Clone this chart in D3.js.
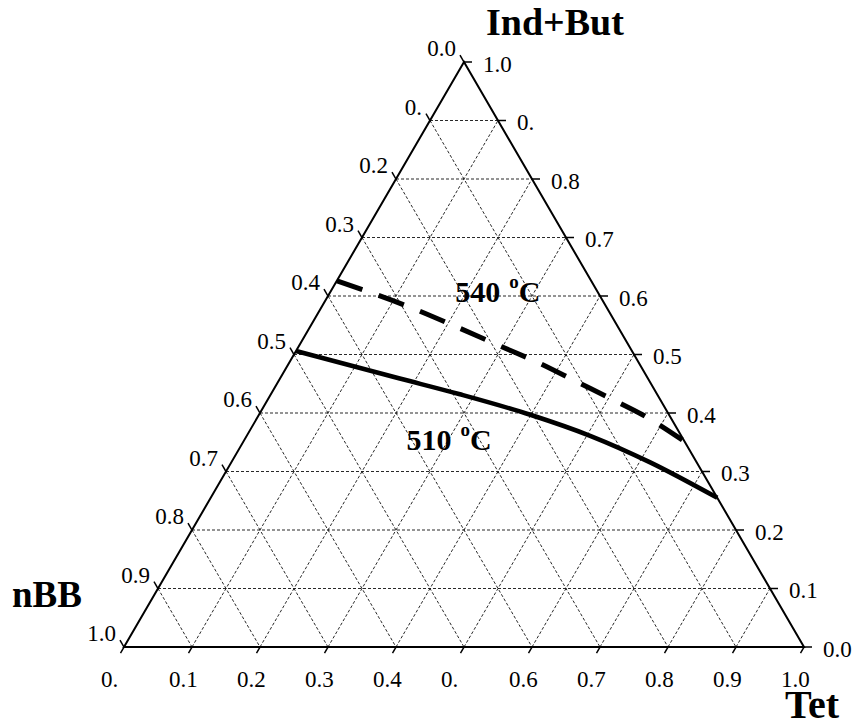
<!DOCTYPE html>
<html>
<head>
<meta charset="utf-8">
<script src="https://cdn.jsdelivr.net/npm/d3@7"></script>
<style>
  body { margin: 0; background: #fff; }
  svg text { font-family: "Liberation Serif", "Times New Roman", serif; fill: #000; }
</style>
</head>
<body>
<div id="chart"></div>
<script>
// values along every axis
var steps = [0, 0.1, 0.2, 0.3, 0.4, 0.5, 0.6, 0.7, 0.8, 0.9, 1.0];
var gridSteps = [0.1, 0.2, 0.3, 0.4, 0.5, 0.6, 0.7, 0.8, 0.9];

// tick labels as printed (some are clipped to "0." in the original)
var leftLabels = ["0.0", "0.", "0.2", "0.3", "0.4", "0.5", "0.6", "0.7", "0.8", "0.9", "1.0"];   // nBB, top -> bottom
var rightLabels = ["0.0", "0.1", "0.2", "0.3", "0.4", "0.5", "0.6", "0.7", "0.8", "0.", "1.0"];  // Ind+But, bottom -> top
var bottomLabels = ["0.", "0.1", "0.2", "0.3", "0.4", "0.", "0.6", "0.7", "0.8", "0.9", "1.0"];  // Tet, left -> right

// curves as [Tet, Ind+But] fractions
var curve510 = [[0.0, 0.506], [0.176, 0.459], [0.278, 0.432], [0.399, 0.397],
                [0.505, 0.361], [0.615, 0.316], [0.745, 0.255]];
var curve540 = [[0.0, 0.626], [0.143, 0.576], [0.216, 0.547], [0.292, 0.516],
                [0.364, 0.487], [0.44, 0.453], [0.516, 0.419], [0.564, 0.397], [0.644, 0.354]];

// annotation anchors [Tet, Ind+But]
var label540 = [0.192, 0.590];
var label510 = [0.247, 0.337];

var width = 856, height = 726;

var svg = d3.select('#chart').append('svg')
    .attr('width', width)
    .attr('height', height);

// x takes (Tet + IB/2), y takes IB
var x = d3.scaleLinear().domain([0, 1]).range([124, 804]);
var y = d3.scaleLinear().domain([0, 1]).range([647, 62]);

function px(tet, ib) { return [x(tet + ib / 2), y(ib)]; }

// dotted grid
var gridLines = [];
gridSteps.forEach(function(v) {
    gridLines.push([px(0, v), px(1 - v, v)]);          // constant Ind+But
    gridLines.push([px(v, 0), px(v, 1 - v)]);          // constant Tet
    gridLines.push([px(0, 1 - v), px(1 - v, 0)]);      // constant nBB
});

svg.append('g').attr('class', 'grid')
  .selectAll('line').data(gridLines).enter().append('line')
    .attr('x1', function(d) { return d[0][0]; })
    .attr('y1', function(d) { return d[0][1]; })
    .attr('x2', function(d) { return d[1][0]; })
    .attr('y2', function(d) { return d[1][1]; })
    .attr('stroke', '#111')
    .attr('stroke-width', 0.9)
    .attr('stroke-dasharray', '3,2');

// triangle frame
var corners = [px(0, 0), px(1, 0), px(0, 1)];
svg.append('path')
    .attr('d', d3.line()(corners) + 'Z')
    .attr('fill', 'none')
    .attr('stroke', '#000')
    .attr('stroke-width', 2);

var tickLen = 8;
var c60 = Math.cos(Math.PI / 3), s60 = Math.sin(Math.PI / 3);
var axes = svg.append('g').attr('class', 'axes');

// left edge: nBB (Tet = 0, IB = 1 - value)
steps.forEach(function(v, i) {
    var p = px(0, 1 - v);
    var e = [p[0] - tickLen * c60, p[1] - tickLen * s60];
    axes.append('line')
        .attr('x1', p[0]).attr('y1', p[1]).attr('x2', e[0]).attr('y2', e[1])
        .attr('stroke', '#000').attr('stroke-width', 1.5);
    axes.append('text')
        .attr('x', e[0] - 4).attr('y', e[1] + 1)
        .attr('text-anchor', 'end')
        .attr('font-size', 23)
        .text(leftLabels[i]);
});

// right edge: Ind+But
steps.forEach(function(v, i) {
    var p = px(1 - v, v);
    axes.append('line')
        .attr('x1', p[0]).attr('y1', p[1]).attr('x2', p[0] + tickLen).attr('y2', p[1])
        .attr('stroke', '#000').attr('stroke-width', 1.5);
    axes.append('text')
        .attr('x', p[0] + 19).attr('y', p[1] + 9.5)
        .attr('font-size', 23)
        .text(rightLabels[i]);
});

// bottom edge: Tet
steps.forEach(function(v, i) {
    var p = px(v, 0);
    var e = [p[0] - (tickLen - 1) * c60, p[1] + (tickLen - 1) * s60];
    axes.append('line')
        .attr('x1', p[0]).attr('y1', p[1]).attr('x2', e[0]).attr('y2', e[1])
        .attr('stroke', '#000').attr('stroke-width', 1.5);
    axes.append('text')
        .attr('x', p[0] - 23).attr('y', 687)
        .attr('font-size', 23)
        .text(bottomLabels[i]);
});

// isotherm curves
var line = d3.line()
    .x(function(d) { return px(d[0], d[1])[0]; })
    .y(function(d) { return px(d[0], d[1])[1]; })
    .curve(d3.curveMonotoneX);

var dashed = svg.append('path')
    .attr('d', line(curve540))
    .attr('fill', 'none')
    .attr('stroke', '#000')
    .attr('stroke-width', 5);

// 9 dashes, first and last touching the triangle edges
var dashLen = 27, nDash = 9;
var total = dashed.node().getTotalLength();
var gap = (total - nDash * dashLen) / (nDash - 1);
dashed.attr('stroke-dasharray', dashLen + ',' + gap);

svg.append('path')
    .attr('d', line(curve510))
    .attr('fill', 'none')
    .attr('stroke', '#000')
    .attr('stroke-width', 4.5);

// temperature labels
function tempLabel(pos, num) {
    var p = px(pos[0], pos[1]);
    var t = svg.append('text')
        .attr('x', p[0]).attr('y', p[1])
        .attr('font-size', 30)
        .attr('font-weight', 'bold');
    t.append('tspan').text(num);
    t.append('tspan').attr('dx', 9).attr('dy', -14).attr('font-size', 19).text('o');
    t.append('tspan').attr('dy', 14).text('C');
}
tempLabel(label540, '540');
tempLabel(label510, '510');

// vertex titles
svg.append('text').attr('x', 486).attr('y', 35)
    .attr('font-size', 38).attr('font-weight', 'bold').text('Ind+But');
svg.append('text').attr('x', 12).attr('y', 607)
    .attr('font-size', 37).attr('font-weight', 'bold').text('nBB');
svg.append('text').attr('x', 785).attr('y', 718)
    .attr('font-size', 40).attr('font-weight', 'bold').text('Tet');
</script>
</body>
</html>
